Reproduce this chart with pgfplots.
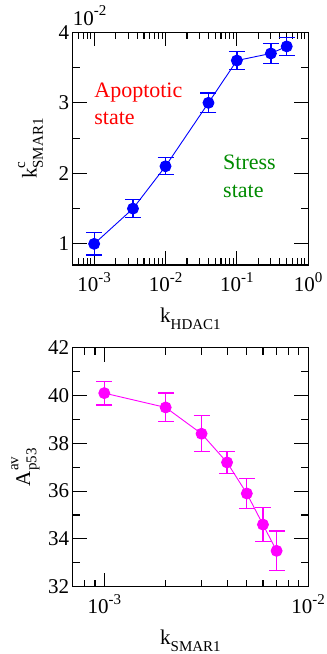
\documentclass[border=0pt]{standalone}
\usepackage{fontspec}
\setmainfont{Liberation Serif}
\usepackage{pgfplots}
\pgfplotsset{compat=1.18}
\definecolor{grgreen}{RGB}{0,139,0}
\definecolor{mag}{RGB}{255,0,255}
\definecolor{blu}{RGB}{0,0,255}

\newcommand{\fs}{\fontsize{21}{23}\selectfont}
\newcommand{\fa}{\fontsize{22}{24}\selectfont}
\newcommand{\sm}{\fontsize{15}{15}\selectfont}
\newcommand{\tl}[1]{10\raisebox{0.45em}{\sm -#1}}

\pgfplotsset{panel/.style={
  scale only axis, width=235.5pt,
  axis line style={line width=1.3pt},
  every tick/.style={line width=1.1pt, black},
  major tick length=14pt, minor tick length=7pt,
  tick align=inside,
  tick label style={font=\fs},
  /pgf/number format/assume math mode=true,
  label style={font=\fs},
  xticklabel style={yshift=-4pt},
  ylabel style={anchor=south, inner sep=0pt},
  xlabel style={anchor=north, inner sep=0pt},
  clip=false,
}}

\begin{document}
\begin{tikzpicture}
\path[use as bounding box] (0,0) rectangle (327pt,-654pt);

% top panel
\begin{axis}[panel, at={(72.7pt,-265pt)}, anchor=south west, height=232.7pt,
  xmode=log, xmin=5e-4, xmax=1, ymin=0.7, ymax=4,
  xtick={1e-3,1e-2,1e-1,1},
  xticklabels={\tl{3},\tl{2},\tl{1},10\raisebox{0.45em}{\sm 0}},
  minor xtick={6e-4,7e-4,8e-4,9e-4,2e-3,3e-3,4e-3,5e-3,6e-3,7e-3,8e-3,9e-3,
    2e-2,3e-2,4e-2,5e-2,6e-2,7e-2,8e-2,9e-2,0.2,0.3,0.4,0.5,0.6,0.7,0.8,0.9},
  ytick={1,2,3,4}, minor ytick={1.5,2.5,3.5},
  xlabel={k\raisebox{-0.3em}{\sm HDAC1}},
  ylabel={k\makebox[0pt][l]{\raisebox{0.55em}{\sm c}}\raisebox{-0.3em}{\sm SMAR1}},
  ylabel style={at={(axis description cs:-0.125,0.5)}},
  xlabel style={at={(axis description cs:0.5,-0.185)}},
]
\addplot[blu, line width=0.9pt, mark=*, mark size=5.5pt,
  mark options={fill=blu, draw=blu},
  error bars/.cd, y dir=both, y explicit,
  error bar style={line width=1.3pt, blu},
  error mark options={rotate=90, mark size=8pt, line width=1.3pt, blu}]
coordinates {
  (0.001,1.0) +- (0,0.16)
  (0.0035,1.5) +- (0,0.13)
  (0.01,2.1) +- (0,0.12)
  (0.04,3.0) +- (0,0.14)
  (0.1,3.6) +- (0,0.13)
  (0.3,3.7) +- (0,0.14)
  (0.5,3.8) +- (0,0.13)
};
\node[anchor=base west, font=\fs, inner sep=0pt] at (rel axis cs:0,1) [yshift=7pt]
  {10\raisebox{0.45em}{\sm -2}};
\node[anchor=base west, font=\fa, red, inner sep=0pt] at (axis cs:0.001,3.07) {Apoptotic};
\node[anchor=base west, font=\fa, red, inner sep=0pt] at (axis cs:0.001,2.69) {state};
\node[anchor=base west, font=\fa, grgreen, inner sep=0pt] at (axis cs:0.064,2.05) {Stress};
\node[anchor=base west, font=\fa, grgreen, inner sep=0pt] at (axis cs:0.064,1.655) {state};
\end{axis}

% bottom panel
\begin{axis}[panel, at={(72.7pt,-586.7pt)}, anchor=south west, height=239pt,
  xmode=log, xmin=7e-4, xmax=1e-2, ymin=32, ymax=42,
  xtick={1e-3,1e-2},
  xticklabels={\tl{3},\tl{2}},
  minor xtick={8e-4,9e-4,2e-3,3e-3,4e-3,5e-3,6e-3,7e-3,8e-3,9e-3},
  ytick={32,34,36,38,40,42}, minor ytick={33,35,37,39,41},
  xlabel={k\raisebox{-0.3em}{\sm SMAR1}},
  ylabel={A\makebox[0pt][l]{\raisebox{0.55em}{\sm av}}\raisebox{-0.3em}{\sm p53}},
  ylabel style={at={(axis description cs:-0.14,0.5)}},
  xlabel style={at={(axis description cs:0.5,-0.181)}},
]
\addplot[mag, line width=0.9pt, mark=*, mark size=5.5pt,
  mark options={fill=mag, draw=mag},
  error bars/.cd, y dir=both, y explicit,
  error bar style={line width=1.3pt, mag},
  error mark options={rotate=90, mark size=8pt, line width=1.3pt, mag}]
coordinates {
  (0.001,40.1) +- (0,0.5)
  (0.002,39.5) +- (0,0.6)
  (0.003,38.4) +- (0,0.75)
  (0.004,37.2) +- (0,0.45)
  (0.005,35.9) +- (0,0.62)
  (0.006,34.6) +- (0,0.7)
  (0.007,33.5) +- (0,0.83)
};
\end{axis}
\end{tikzpicture}
\end{document}
